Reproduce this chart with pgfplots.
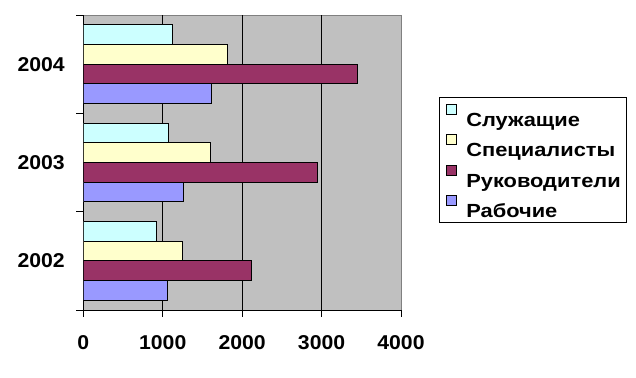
\documentclass[border=0pt]{standalone}
\usepackage{pgfplots}
\pgfplotsset{compat=1.18}
\usepackage{fontspec}
\setmainfont{Liberation Sans}
\newfontfamily\tickfont[FakeStretch=1.06]{Liberation Sans}
\newfontfamily\legfont[FakeStretch=1.15]{Liberation Sans}
\definecolor{bg}{HTML}{C0C0C0}
\definecolor{sl}{HTML}{CCFFFF}
\definecolor{sp}{HTML}{FFFFCC}
\definecolor{ru}{HTML}{993366}
\definecolor{ra}{HTML}{9999FF}
\begin{document}
\begin{tikzpicture}
\path[use as bounding box] (0,0) rectangle (636bp,378bp);
\begin{axis}[
 at={(83.3bp,68bp)}, anchor=south west, scale only axis,
 width=317.7bp, height=295bp,
 xbar, bar width=0.2,
 xmin=0, xmax=4000, ymin=-0.5, ymax=2.5,
 axis x line*=bottom, axis y line*=left,
 axis line style={black, line width=0.8pt, -},
 axis background/.style={fill=bg, draw=gray, line width=0.8pt},
 xtick={0,1000,2000,3000,4000},
 scaled x ticks=false,
 ytick={-0.5,0.5,1.5,2.5},
 y tick label as interval,
 yticklabels={2002,2003,2004},
 tick align=outside,
 major tick length=7bp,
 tick style={black, line width=0.8pt},
 extra x ticks={1000,2000,3000},
 extra x tick labels={},
 extra x tick style={grid=major, major tick length=0pt},
 grid style={black, line width=0.8pt},
 ticklabel style={font=\tickfont\fontsize{20bp}{24bp}\selectfont\bfseries},
 xticklabel style={yshift=-15bp},
 yticklabel style={xshift=-8bp},
 /pgf/number format/assume math mode=true,
 /pgf/number format/1000 sep={},
 legend cell align=left,
 legend style={at={(1.1206,0.7220)}, anchor=north west, draw=black, line width=0.8pt, fill=white,
   font=\legfont\fontsize{19bp}{22bp}\selectfont\bfseries, inner xsep=6bp, inner ysep=4bp, row sep=4.3bp, column sep=10bp,
   nodes={inner sep=0pt, text height=25bp, text depth=1bp}},
 legend image code/.code={\draw[#1, line width=0.6pt] (0bp,0bp) rectangle (10bp,10bp);},
]
\addplot[fill=sl, draw=black, line width=0.8pt, bar shift=0.3] coordinates {(920,0) (1070,1) (1120,2)};
\addplot[fill=sp, draw=black, line width=0.8pt, bar shift=0.1] coordinates {(1250,0) (1600,1) (1810,2)};
\addplot[fill=ru, draw=black, line width=0.8pt, bar shift=-0.1] coordinates {(2120,0) (2950,1) (3450,2)};
\addplot[fill=ra, draw=black, line width=0.8pt, bar shift=-0.3] coordinates {(1060,0) (1260,1) (1615,2)};
\legend{Служащие, Специалисты, Руководители, Рабочие}
\end{axis}
\end{tikzpicture}
\end{document}
